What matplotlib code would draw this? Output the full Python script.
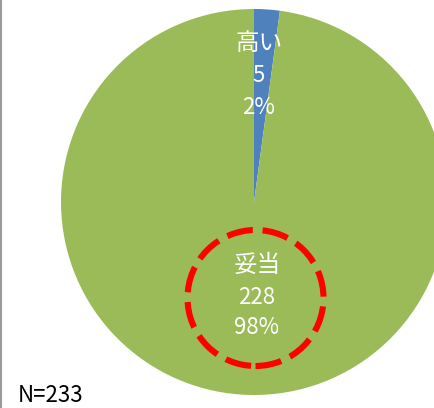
import matplotlib.pyplot as plt
from matplotlib.patches import Circle

plt.rcParams['font.family'] = ['Noto Sans CJK JP', 'DejaVu Sans']

labels = ["高い", "妥当"]
counts = [5, 228]
colors = ["#4F81BD", "#9BBB59"]
total = sum(counts)

fig = plt.figure(figsize=(4.35, 4.08), dpi=100)
ax = fig.add_axes([0, 0, 1, 1])

cx, cy, r = 254, 206, 193
ax.pie(counts, colors=colors, startangle=90, counterclock=False,
       center=(cx, cy), radius=r, frame=True)
ax.set_xlim(0, 435)
ax.set_ylim(0, 408)
ax.set_aspect("equal")
ax.axis("off")

# category / count / percent labels
label_pos = [(259, 364), (257, 143)]
for (x, y), name, n in zip(label_pos, labels, counts):
    pct = round(n / total * 100)
    ax.text(x, y, name, color="white", fontsize=17, ha="center", va="center")
    ax.text(x, y - 32, str(n), color="white", fontsize=16, ha="center", va="center")
    ax.text(x, y - 63, f"{pct}%", color="white", fontsize=16, ha="center", va="center")

# red dashed ring around the main slice label
ring = Circle((255.5, 110), 68, fill=False, edgecolor="#FF0000", lw=4.4,
              linestyle=(0, (4.3, 1.6)))
ax.add_patch(ring)

ax.text(18, 12, f"N={total}", fontsize=16, ha="left", va="center", color="black")

# frame edge on the left
fig.add_artist(plt.Line2D([1.5 / 435, 1.5 / 435], [0, 1], color="#9a9a9a", lw=1.5,
                          transform=fig.transFigure))

fig.savefig("out.png", dpi=100)
